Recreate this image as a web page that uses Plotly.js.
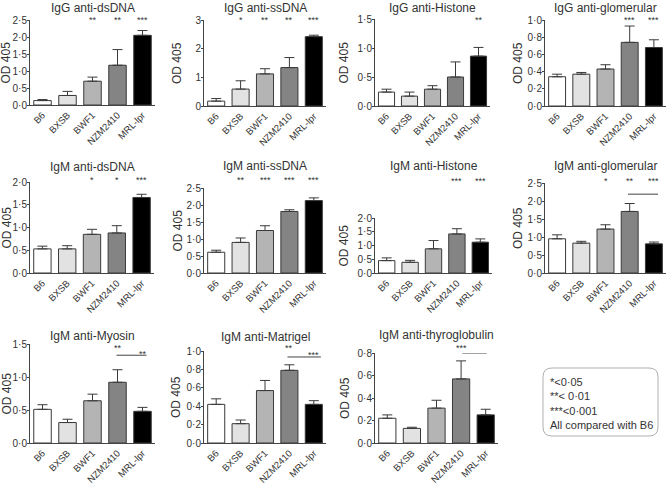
<!DOCTYPE html>
<html>
<head>
<meta charset="utf-8">
<script src="https://cdn.plot.ly/plotly-3.0.1.min.js"></script>
<style>html,body{margin:0;padding:0;background:#fff}</style>
</head>
<body>
<div id="chart" style="width:667px;height:485px"></div>
<script>
// mouse strains, same order in every panel
const strains = ['B6', 'BXSB', 'BWF1', 'NZM2410', 'MRL-lpr'];
const strainColors = ['#ffffff', '#e2e2e2', '#b4b4b4', '#848484', '#000000'];

// OD 405 means and upper SEM
const iggDsDNA = [0.13, 0.28, 0.70, 1.17, 2.05];
const iggDsDNAErr = [0.03, 0.12, 0.12, 0.46, 0.14];
const iggDsDNAStars = ['', '', '**', '**', '***'];

const iggSsDNA = [0.17, 0.59, 1.12, 1.34, 2.42];
const iggSsDNAErr = [0.09, 0.29, 0.18, 0.35, 0.05];
const iggSsDNAStars = ['', '*', '**', '**', '***'];

const iggHistone = [0.24, 0.17, 0.29, 0.50, 0.86];
const iggHistoneErr = [0.05, 0.07, 0.06, 0.26, 0.15];
const iggHistoneStars = ['', '', '', '', '**'];

const iggGlom = [0.34, 0.37, 0.43, 0.74, 0.68];
const iggGlomErr = [0.03, 0.02, 0.05, 0.19, 0.09];
const iggGlomStars = ['', '', '', '***', '***'];

const igmDsDNA = [0.53, 0.53, 0.85, 0.88, 1.66];
const igmDsDNAErr = [0.06, 0.07, 0.11, 0.16, 0.07];
const igmDsDNAStars = ['', '', '*', '*', '***'];

const igmSsDNA = [0.61, 0.90, 1.25, 1.81, 2.13];
const igmSsDNAErr = [0.06, 0.13, 0.14, 0.05, 0.08];
const igmSsDNAStars = ['', '**', '***', '***', '***'];

const igmHistone = [0.45, 0.39, 0.88, 1.42, 1.12];
const igmHistoneErr = [0.10, 0.07, 0.30, 0.19, 0.12];
const igmHistoneStars = ['', '', '', '***', '***'];

const igmGlom = [0.95, 0.83, 1.22, 1.71, 0.81];
const igmGlomErr = [0.11, 0.05, 0.12, 0.22, 0.05];
const igmGlomStars = ['', '', '*', '**', '***'];

const igmMyosin = [0.51, 0.31, 0.64, 0.92, 0.48];
const igmMyosinErr = [0.07, 0.05, 0.10, 0.19, 0.06];
const igmMyosinStars = ['', '', '', '**', ''];

const igmMatrigel = [0.42, 0.21, 0.57, 0.79, 0.42];
const igmMatrigelErr = [0.06, 0.04, 0.11, 0.06, 0.04];
const igmMatrigelStars = ['', '', '', '**', ''];

const igmThyro = [0.22, 0.13, 0.31, 0.57, 0.25];
const igmThyroErr = [0.03, 0.01, 0.07, 0.16, 0.05];
const igmThyroStars = ['', '', '', '***', ''];

const legendLines = ['*<0·05', '**< 0·01', '***<0·001', 'All compared with B6'];

// panel boxes in pixels: left, right, top, bottom of the plot area;
// ty = title row, sy = star row, yt = x of the rotated "OD 405"
const W = 667, H = 485;
const panels = [
  {title: 'IgG anti-dsDNA', y: iggDsDNA, e: iggDsDNAErr, s: iggDsDNAStars, box: [30, 155, 20, 105], top: 2.5, dt: 0.5, ty: 8, sy: 17, yt: 6},
  {title: 'IgG anti-ssDNA', y: iggSsDNA, e: iggSsDNAErr, s: iggSsDNAStars, box: [204, 326, 20, 106], top: 3, dt: 1, ty: 8, sy: 17, yt: 177, fmt: 'd'},
  {title: 'IgG anti-Histone', y: iggHistone, e: iggHistoneErr, s: iggHistoneStars, box: [375, 490, 19, 106], top: 1.5, dt: 0.5, ty: 8, sy: 17, yt: 344},
  {title: 'IgG anti-glomerular', y: iggGlom, e: iggGlomErr, s: iggGlomStars, box: [545, 666, 20, 106], top: 1.0, dt: 0.2, ty: 8, sy: 17, yt: 518},
  {title: 'IgM anti-dsDNA', y: igmDsDNA, e: igmDsDNAErr, s: igmDsDNAStars, box: [30, 154, 182, 273], top: 2.0, dt: 0.5, ty: 167, sy: 177, yt: 6},
  {title: 'IgM anti-ssDNA', y: igmSsDNA, e: igmSsDNAErr, s: igmSsDNAStars, box: [204, 326, 188, 273], top: 2.5, dt: 0.5, ty: 166, sy: 177, yt: 177},
  {title: 'IgM anti-Histone', y: igmHistone, e: igmHistoneErr, s: igmHistoneStars, box: [375, 492, 218, 273], top: 2.0, dt: 0.5, ty: 166, sy: 178, yt: 343},
  {title: 'IgM anti-glomerular', y: igmGlom, e: igmGlomErr, s: igmGlomStars, box: [545, 666, 183, 273], top: 2.5, dt: 0.5, ty: 166, sy: 178, yt: 518,
   bar: {x0: 2.93, x1: 4.17, y: 2.19}},
  {title: 'IgM anti-Myosin', y: igmMyosin, e: igmMyosinErr, s: igmMyosinStars, box: [30, 155, 344, 443], top: 1.5, dt: 0.5, ty: 336, sy: 345, yt: 6,
   bar: {x0: 2.96, x1: 4.16, y: 1.33, star: '**', sx: 4, st: 1.40}},
  {title: 'IgM anti-Matrigel', y: igmMatrigel, e: igmMatrigelErr, s: igmMatrigelStars, box: [204, 326, 351, 443], top: 1.0, dt: 0.2, ty: 337, sy: 345, yt: 176,
   bar: {x0: 2.92, x1: 4.29, y: 0.935, star: '***', sx: 4, st: 0.99}},
  {title: 'IgM anti-thyroglobulin', y: igmThyro, e: igmThyroErr, s: igmThyroStars, box: [375, 498, 353, 443], top: 0.8, dt: 0.2, ty: 335, sy: 345, yt: 345,
   bar: {x0: 3.05, x1: 4.04, y: 0.80, star: '*', sx: 3.95, st: 0.83}}
];

const ink = '#333333';
const fontFam = 'Liberation Sans, Arial, sans-serif';
const data = [];
const layout = {
  width: W, height: H,
  margin: {l: 0, r: 0, t: 0, b: 0},
  paper_bgcolor: '#fff', plot_bgcolor: 'rgba(0,0,0,0)',
  showlegend: false,
  bargap: 0.3,
  separators: '·,',
  font: {family: fontFam, size: 11, color: ink},
  annotations: [],
  shapes: []
};

function note(extra) {
  return Object.assign({showarrow: false, xanchor: 'center', yanchor: 'middle'}, extra);
}

panels.forEach(function(p, i) {
  const n = i + 1;
  const xa = 'x' + n, ya = 'y' + n;
  data.push({
    type: 'bar', x: strains, y: p.y, xaxis: xa, yaxis: ya,
    marker: {color: strainColors, line: {color: '#3a3a3a', width: 1}},
    error_y: {type: 'data', symmetric: false, array: p.e, arrayminus: p.e.map(() => 0),
              color: '#3a3a3a', thickness: 1, width: 5},
    hoverinfo: 'x+y'
  });
  layout['xaxis' + n] = {
    domain: [p.box[0] / W, p.box[1] / W], anchor: ya,
    type: 'category', range: [-0.5, 4.5],
    showline: true, linecolor: '#444', linewidth: 1,
    ticks: '', tickangle: -45, tickfont: {size: 9.5, color: ink},
    showgrid: false, zeroline: false, fixedrange: true
  };
  layout['yaxis' + n] = {
    domain: [1 - p.box[3] / H, 1 - p.box[2] / H], anchor: xa,
    range: [0, p.top], tick0: 0, dtick: p.dt, tickformat: p.fmt || '.1f',
    showline: true, linecolor: '#444', linewidth: 1,
    ticks: 'outside', ticklen: 2, tickcolor: '#444', ticklabelstandoff: -2,
    tickfont: {size: 10, color: ink},
    showgrid: false, zeroline: false, fixedrange: true
  };
  // panel title
  layout.annotations.push(note({
    text: p.title, xref: 'paper', yref: 'paper',
    x: (p.box[0] + p.box[1]) / 2 / W, y: 1 - p.ty / H,
    font: {size: 12, color: ink}
  }));
  // y axis title
  layout.annotations.push(note({
    text: 'OD 405', xref: 'paper', yref: 'paper', textangle: -90,
    x: p.yt / W, y: 1 - (p.box[2] + p.box[3]) / 2 / H,
    font: {size: 12, color: ink}
  }));
  // significance vs B6
  p.s.forEach(function(st, j) {
    if (!st) return;
    layout.annotations.push(note({
      text: st, xref: xa, yref: 'paper', x: strains[j], y: 1 - p.sy / H,
      yshift: -3, font: {size: 9, color: ink}
    }));
  });
  // NZM2410 vs MRL-lpr bracket
  if (p.bar) {
    layout.shapes.push({type: 'line', xref: xa, yref: ya, x0: p.bar.x0, x1: p.bar.x1, y0: p.bar.y, y1: p.bar.y,
                        line: {color: '#444', width: 1}});
    if (p.bar.star) {
      layout.annotations.push(note({
        text: p.bar.star, xref: xa, yref: ya, x: p.bar.sx, y: p.bar.st,
        yshift: -3, font: {size: 9, color: ink}
      }));
    }
  }
});

// rounded legend box for the significance key
const bx0 = 543, bx1 = 658, by0 = 368, by1 = 436, r = 9;
function px(v) { return (v / W).toFixed(5); }
function py(v) { return (1 - v / H).toFixed(5); }
const boxPath = 'M' + px(bx0 + r) + ',' + py(by0) +
  ' L' + px(bx1 - r) + ',' + py(by0) + ' Q' + px(bx1) + ',' + py(by0) + ' ' + px(bx1) + ',' + py(by0 + r) +
  ' L' + px(bx1) + ',' + py(by1 - r) + ' Q' + px(bx1) + ',' + py(by1) + ' ' + px(bx1 - r) + ',' + py(by1) +
  ' L' + px(bx0 + r) + ',' + py(by1) + ' Q' + px(bx0) + ',' + py(by1) + ' ' + px(bx0) + ',' + py(by1 - r) +
  ' L' + px(bx0) + ',' + py(by0 + r) + ' Q' + px(bx0) + ',' + py(by0) + ' ' + px(bx0 + r) + ',' + py(by0) + ' Z';
layout.shapes.push({type: 'path', xref: 'paper', yref: 'paper', path: boxPath,
                    line: {color: '#b0b0b0', width: 1}, fillcolor: 'rgba(0,0,0,0)'});
layout.annotations.push(note({
  text: legendLines.join('<br>'), xref: 'paper', yref: 'paper',
  x: 548 / W, y: 1 - 403 / H, xanchor: 'left', align: 'left',
  font: {size: 11, color: ink}
}));

Plotly.newPlot('chart', data, layout, {displayModeBar: false, staticPlot: true});
</script>
</body>
</html>
